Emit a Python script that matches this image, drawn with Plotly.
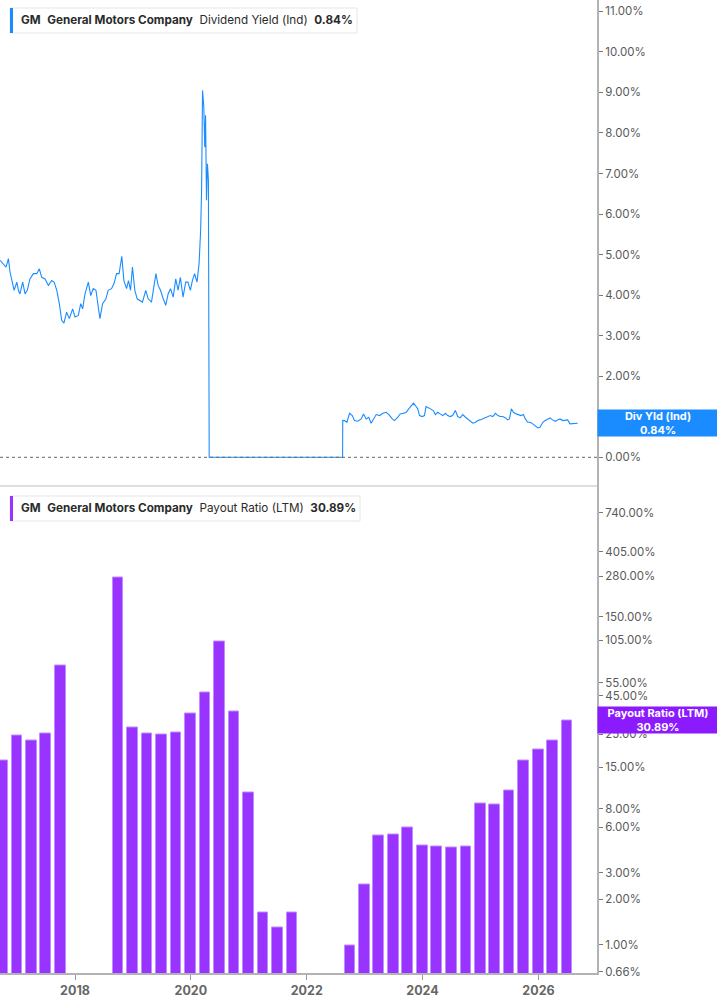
import plotly.graph_objects as go
import numpy as np

# ---- data ----
yield_dates = [
    "2016-09-15", "2016-10-06", "2016-10-23", "2016-11-07", "2016-11-17", "2016-12-04", "2016-12-13",
    "2016-12-30", "2017-01-09", "2017-01-19", "2017-02-05", "2017-02-20", "2017-03-06", "2017-03-23",
    "2017-04-13", "2017-05-05", "2017-05-21", "2017-06-05", "2017-06-26", "2017-07-17", "2017-08-07",
    "2017-08-22", "2017-09-08", "2017-09-24", "2017-10-09", "2017-10-23", "2017-11-09", "2017-11-26",
    "2017-12-17", "2018-01-01", "2018-01-22", "2018-02-06", "2018-02-18", "2018-03-05", "2018-03-26",
    "2018-04-10", "2018-04-26", "2018-05-13", "2018-05-28", "2018-06-07", "2018-06-24", "2018-07-15",
    "2018-07-29", "2018-08-19", "2018-09-03", "2018-09-20", "2018-10-06", "2018-10-23", "2018-11-05",
    "2018-11-22", "2018-12-04", "2018-12-17", "2018-12-29", "2019-01-13", "2019-01-28", "2019-02-13",
    "2019-03-02", "2019-03-23", "2019-04-07", "2019-04-28", "2019-05-13", "2019-05-26", "2019-06-09",
    "2019-06-24", "2019-07-11", "2019-07-27", "2019-08-11", "2019-08-26", "2019-09-12", "2019-09-28",
    "2019-10-13", "2019-10-27", "2019-11-13", "2019-11-30", "2019-12-14", "2019-12-29", "2020-01-11",
    "2020-01-25", "2020-02-09", "2020-02-22", "2020-03-03", "2020-03-09", "2020-03-15", "2020-03-23",
    "2020-03-29", "2020-04-03", "2020-04-09", "2020-04-15", "2020-04-21", "2020-04-26", "2022-08-15",
    "2022-08-16", "2022-08-27", "2022-09-11", "2022-09-28", "2022-10-15", "2022-10-29", "2022-11-19",
    "2022-12-10", "2022-12-25", "2023-01-11", "2023-01-27", "2023-02-11", "2023-02-26", "2023-03-15",
    "2023-04-05", "2023-04-26", "2023-05-17", "2023-06-03", "2023-06-24", "2023-07-08", "2023-07-29",
    "2023-08-13", "2023-09-03", "2023-09-20", "2023-10-06", "2023-10-21", "2023-11-05", "2023-11-17",
    "2023-12-02", "2023-12-13", "2023-12-30", "2024-01-13", "2024-01-23", "2024-02-09", "2024-02-24",
    "2024-03-09", "2024-03-22", "2024-04-06", "2024-04-21", "2024-05-08", "2024-05-24", "2024-06-08",
    "2024-06-23", "2024-07-09", "2024-07-26", "2024-08-10", "2024-08-25", "2024-09-11", "2024-09-28",
    "2024-10-13", "2024-10-27", "2024-11-13", "2024-11-30", "2024-12-14", "2024-12-29", "2025-01-15",
    "2025-02-01", "2025-02-16", "2025-03-03", "2025-03-19", "2025-04-05", "2025-04-20", "2025-05-04",
    "2025-05-21", "2025-06-07", "2025-06-21", "2025-07-02", "2025-07-14", "2025-07-27", "2025-08-13",
    "2025-08-29", "2025-09-13", "2025-09-28", "2025-10-10", "2025-10-25", "2025-11-09", "2025-11-26",
    "2025-12-13", "2025-12-28", "2026-01-11", "2026-01-28", "2026-02-13", "2026-02-28", "2026-03-15",
    "2026-03-31", "2026-04-17", "2026-05-02", "2026-05-17", "2026-06-03", "2026-06-19", "2026-07-04",
    "2026-07-19", "2026-08-05", "2026-08-21", "2026-09-05",
]
yield_values = [
    4.86, 4.77, 4.69, 4.90, 4.57, 4.28, 4.12,
    4.32, 4.12, 4.03, 4.32, 4.03, 4.12, 4.40,
    4.53, 4.53, 4.65, 4.44, 4.40, 4.24, 4.36,
    4.32, 4.12, 3.79, 3.38, 3.31, 3.58, 3.42,
    3.66, 3.46, 3.50, 3.79, 3.66, 4.03, 4.32,
    3.99, 4.16, 4.12, 3.62, 3.42, 3.79, 3.91,
    4.12, 4.16, 4.28, 4.53, 4.53, 4.96, 4.36,
    4.16, 4.36, 4.12, 4.69, 4.12, 3.91, 3.87,
    3.83, 4.12, 3.91, 3.83, 4.20, 4.53, 4.24,
    4.12, 3.91, 3.75, 4.03, 4.16, 3.95, 4.40,
    4.12, 4.44, 3.95, 4.32, 4.32, 4.12, 4.36,
    4.53, 4.32, 4.77, 5.60, 6.59, 9.05, 8.64,
    7.65, 8.44, 6.34, 7.24, 6.83, 0.00, 0.00,
    0.91, 0.906, 0.864, 1.086, 1.030, 0.906, 0.889,
    0.947, 1.071, 0.947, 0.988, 0.840, 0.947, 1.054,
    1.030, 1.086, 1.111, 1.054, 0.947, 0.906, 0.988,
    1.071, 1.086, 1.111, 1.195, 1.277, 1.334, 1.277,
    1.195, 1.030, 1.005, 1.030, 1.252, 1.219, 1.195,
    1.153, 1.054, 1.111, 1.071, 1.030, 1.086, 1.030,
    1.005, 1.030, 1.153, 1.005, 0.972, 1.054, 0.988,
    0.947, 0.906, 0.840, 0.864, 0.906, 0.923, 0.947,
    0.988, 1.005, 1.030, 1.005, 1.086, 1.030, 1.005,
    1.005, 0.972, 0.923, 0.947, 1.195, 1.111, 1.071,
    1.054, 1.030, 1.054, 0.947, 0.864, 0.864, 0.824,
    0.758, 0.725, 0.741, 0.864, 0.906, 0.947, 0.972,
    0.923, 0.889, 0.923, 0.947, 0.906, 0.923, 0.923,
    0.824, 0.824, 0.840, 0.840,
]

payout_dates = [
    "2016-09-30", "2016-12-31", "2017-03-31", "2017-06-30", "2017-09-30",
    "2018-09-30", "2018-12-31", "2019-03-31", "2019-06-30", "2019-09-30", "2019-12-31",
    "2020-03-31", "2020-06-30", "2020-09-30", "2020-12-31", "2021-03-31", "2021-06-30", "2021-09-30",
    "2022-09-30", "2022-12-31", "2023-03-31", "2023-06-30", "2023-09-30", "2023-12-31",
    "2024-03-31", "2024-06-30", "2024-09-30", "2024-12-31", "2025-03-31", "2025-06-30",
    "2025-09-30", "2025-12-31", "2026-03-31", "2026-06-30",
]
payout_values = [
    16.7, 24.5, 22.7, 25.3, 71.0,
    272.0, 27.6, 25.2, 24.9, 25.7, 34.3,
    47.0, 103.0, 35.2, 10.2, 1.64, 1.29, 1.62,
    0.99, 2.51, 5.30, 5.38, 6.02, 4.57,
    4.48, 4.41, 4.50, 8.64, 8.55, 10.6,
    16.8, 19.6, 22.6, 30.89,
]

yield_ticks = [0, 1, 2, 3, 4, 5, 6, 7, 8, 9, 10, 11]
payout_ticks = [0.66, 1, 2, 3, 6, 8, 15, 25, 45, 55, 105, 150, 280, 405, 740]
year_ticks = ["2018-01-01", "2020-01-01", "2022-01-01", "2024-01-01", "2026-01-01"]
year_labels = ["2018", "2020", "2022", "2024", "2026"]

last_yield = 0.84
last_payout = 30.89

BLUE = "#1a8cff"
PURPLE = "#9933ff"
FONT = "Inter"

W, H = 717, 1005
PLOT_W, PLOT_H = 597, 973


def px(x):
    return x / PLOT_W


def py(y):
    return (PLOT_H - y) / PLOT_H


fig = go.Figure()

fig.add_trace(go.Scatter(x=yield_dates, y=yield_values, mode="lines",
                         line=dict(color=BLUE, width=1.1), xaxis="x", yaxis="y",
                         showlegend=False, hoverinfo="skip"))

fig.add_trace(go.Bar(x=payout_dates, y=payout_values, xaxis="x2", yaxis="y2",
                     marker=dict(color=PURPLE, line=dict(color="#c08cff", width=1)),
                     width=67 * 86400000, showlegend=False, hoverinfo="skip"))

xrange = ["2016-09-15", "2027-01-05"]
tickfont = dict(family=FONT, size=11.5, color="#5a5a5a")

fig.update_layout(
    width=W, height=H,
    margin=dict(l=0, r=W - PLOT_W, t=0, b=H - PLOT_H),
    paper_bgcolor="white", plot_bgcolor="white",
    bargap=0,
    xaxis=dict(domain=[0, 1], range=xrange, type="date", anchor="y",
               showticklabels=False, showgrid=False, zeroline=False, ticks="", showline=False),
    yaxis=dict(domain=[0.5, 1], range=[-0.72, 11.28], side="right", anchor="x",
               tickvals=yield_ticks, ticktext=["%.2f%%" % v for v in yield_ticks],
               showgrid=False, zeroline=False, showline=True, linecolor="#b3b3b3", linewidth=2,
               ticks="outside", ticklen=4, tickcolor="#777", tickfont=tickfont),
    xaxis2=dict(domain=[0, 1], range=xrange, type="date", anchor="y2",
                tickvals=year_ticks, ticktext=year_labels,
                showgrid=False, zeroline=False, showline=True, linecolor="#b3b3b3", linewidth=2,
                ticks="outside", ticklen=5, tickcolor="#999",
                tickfont=dict(family=FONT, size=12.5, color="#666", weight="bold")),
    yaxis2=dict(domain=[0, 0.5], type="log", range=[-0.189, 3.042], side="right", anchor="x2",
                tickvals=payout_ticks, ticktext=["%.2f%%" % v for v in payout_ticks],
                showgrid=False, zeroline=False, showline=True, linecolor="#b3b3b3", linewidth=2,
                ticks="outside", ticklen=4, tickcolor="#777", tickfont=tickfont),
)

# dotted zero line in the yield pane
fig.add_shape(type="line", xref="paper", yref="y", x0=0, x1=1, y0=0, y1=0,
              line=dict(color="#666", width=1, dash="dot"))
# divider between panes
fig.add_shape(type="line", xref="paper", yref="paper", x0=0, x1=1, y0=py(486), y1=py(486),
              line=dict(color="#dedede", width=2))


def legend_box(top, right, color, label, value):
    fig.add_shape(type="rect", xref="paper", yref="paper",
                  x0=px(10), x1=px(right), y0=py(top + 25), y1=py(top),
                  line=dict(color="#e6e6e6", width=1), fillcolor="white")
    fig.add_shape(type="rect", xref="paper", yref="paper",
                  x0=px(10), x1=px(13), y0=py(top + 25), y1=py(top),
                  line=dict(width=0), fillcolor=color)
    fig.add_annotation(xref="paper", yref="paper", x=px(19), y=py(top + 12.5),
                       xanchor="left", yanchor="middle", showarrow=False,
                       text="<b>GM</b>  <b>General Motors Company</b>  %s  <b>%s</b>" % (label, value),
                       font=dict(family=FONT, size=11.7, color="#2b2b2b"))


legend_box(8, 357, BLUE, "Dividend Yield (Ind)", "%.2f%%" % last_yield)
legend_box(496, 360, PURPLE, "Payout Ratio (LTM)", "%.2f%%" % last_payout)

# value badges on the right axis
fig.add_annotation(xref="paper", yref="y", x=1, y=last_yield, xanchor="left", yanchor="middle",
                   showarrow=False, width=116, height=22, bgcolor="#1a8cff", borderpad=2,
                   text="<b>Div Yld (Ind)</b><br><b>%.2f%%</b>" % last_yield,
                   font=dict(family=FONT, size=11, color="white"))
fig.add_annotation(xref="paper", yref="y2", x=1, y=np.log10(last_payout), xanchor="left", yanchor="middle",
                   showarrow=False, width=116, height=22, bgcolor="#8c1aff", borderpad=2,
                   text="<b>Payout Ratio (LTM)</b><br><b>%.2f%%</b>" % last_payout,
                   font=dict(family=FONT, size=11, color="white"))

# the page body has a default 8px margin; drop it so the figure sits at the window corner
fig.write_html("out.html", config={"displayModeBar": False},
               post_script="document.body.style.margin='0';")
